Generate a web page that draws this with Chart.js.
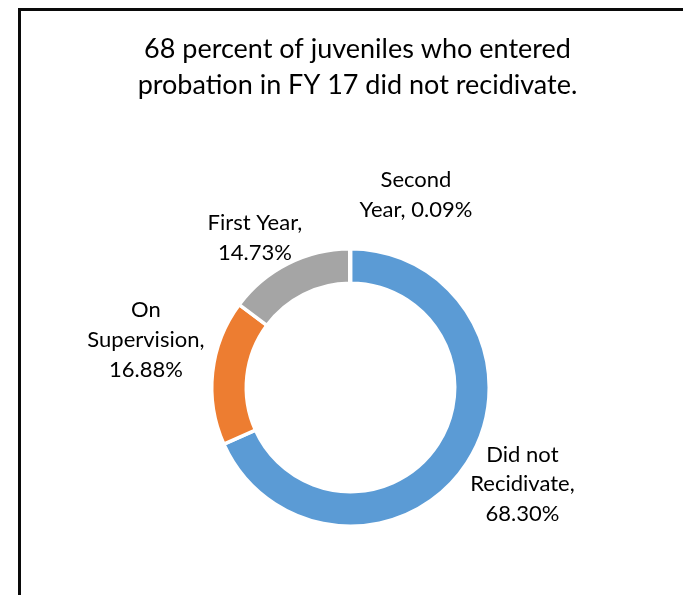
<!DOCTYPE html>
<html>
<head>
<meta charset="utf-8">
<script src="https://cdn.jsdelivr.net/npm/chart.js@4"></script>
<style>
  html, body { margin: 0; padding: 0; background: #fff; }
  .wrap { position: relative; width: 683px; height: 595px; overflow: hidden; }
  .frame {
    position: absolute; left: 18px; top: 8px; width: 800px; height: 800px;
    border-left: 3px solid #0a0a0a; border-top: 3px solid #0a0a0a;
    pointer-events: none;
  }
  canvas { position: absolute; left: 0; top: 0; }
</style>
</head>
<body>
<div class="wrap">
  <canvas id="chart" width="683" height="595"></canvas>
  <div class="frame"></div>
</div>
<script>
const titleLines = ['68 percent of juveniles who entered', 'probation in FY 17 did not recidivate.']
const categories = ['Did not Recidivate', 'On Supervision', 'First Year', 'Second Year']
const shares = [68.30, 16.88, 14.73, 0.09]
const colors = ['#5B9BD5', '#ED7D31', '#A5A5A5', '#FFC000']
// label text per slice, split the way the labels wrap
const labelLines = [
  ['Did not', 'Recidivate,', '68.30%'],
  ['On', 'Supervision,', '16.88%'],
  ['First Year,', '14.73%'],
  ['Second', 'Year, 0.09%']
]
// nudge from the default spot out along each slice's middle
const labelNudge = [[11, -8], [-14, -27], [-9, 21], [66, -1]]

const FONT = 'Lato, "Open Sans", sans-serif'

const textPlugin = {
  id: 'textPlugin',
  afterDraw(chart) {
    const ctx = chart.ctx
    ctx.save()
    ctx.fillStyle = '#000'
    ctx.textAlign = 'center'
    ctx.textBaseline = 'alphabetic'

    // title
    ctx.font = '27px ' + FONT
    titleLines.forEach((line, i) => {
      ctx.fillText(line, 357.5, 58 + i * 35.6)
    })

    // data labels outside the ring
    ctx.font = '22px ' + FONT
    const lineH = 29.7
    const arcs = chart.getDatasetMeta(0).data
    arcs.forEach((arc, i) => {
      const { x, y, startAngle, endAngle, outerRadius } = arc.getProps(['x', 'y', 'startAngle', 'endAngle', 'outerRadius'], true)
      const mid = (startAngle + endAngle) / 2
      const dist = outerRadius + 53
      const cx = x + Math.cos(mid) * dist + labelNudge[i][0]
      const cy = y + Math.sin(mid) * dist + labelNudge[i][1]
      const lines = labelLines[i]
      lines.forEach((line, j) => {
        const base = cy + (j - (lines.length - 1) / 2) * lineH + 7.5
        ctx.fillText(line, cx, base)
      })
    })
    ctx.restore()
  }
}

const ctx = document.getElementById('chart').getContext('2d')
new Chart(ctx, {
  type: 'doughnut',
  data: {
    labels: categories,
    datasets: [{
      data: shares,
      backgroundColor: colors,
      borderColor: '#fff',
      borderWidth: 3.5
    }]
  },
  options: {
    responsive: false,
    animation: false,
    radius: 138.75,
    cutout: '75.1%',
    layout: {
      padding: { left: 210.5, right: 192.5, top: 247.5, bottom: 67.5 }
    },
    plugins: {
      legend: { display: false },
      title: { display: false },
      tooltip: { enabled: false }
    }
  },
  plugins: [textPlugin]
})
</script>
</body>
</html>
